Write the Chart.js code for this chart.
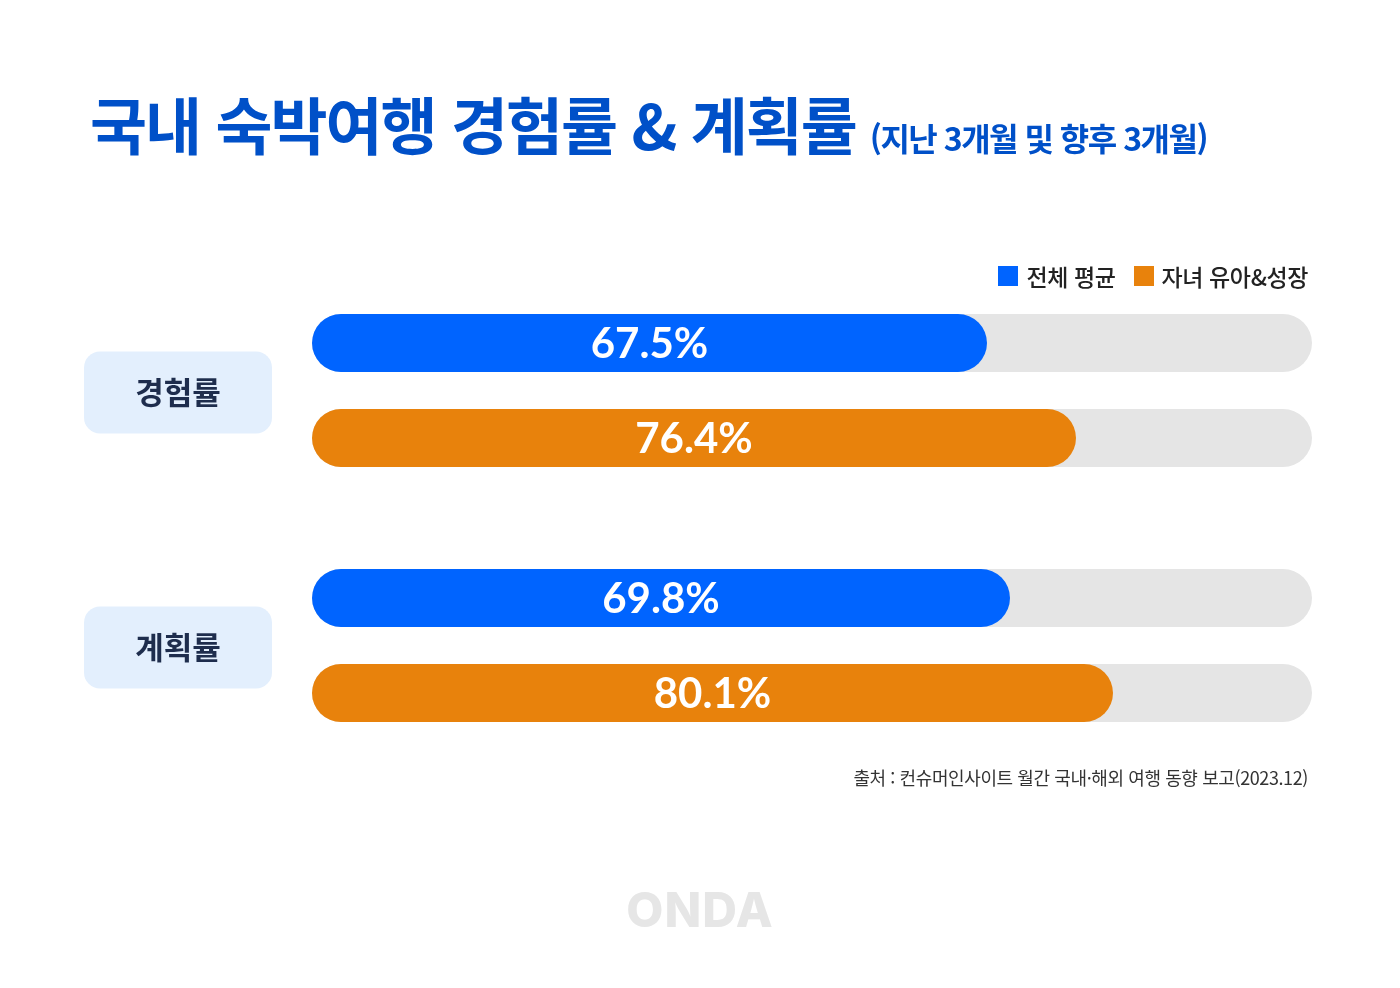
<!DOCTYPE html>
<html lang="ko">
<head>
<meta charset="utf-8">
<script src="https://cdn.jsdelivr.net/npm/chart.js@4/dist/chart.umd.min.js"></script>
<style>
  html, body { margin: 0; padding: 0; background: #ffffff; }
  #wrap { position: relative; width: 1400px; height: 988px; overflow: hidden; background: #fff; }
  #chart { position: absolute; left: 0; top: 0; width: 1400px; height: 988px; }
  .kr { font-family: "Noto Sans CJK KR", "Noto Sans", sans-serif; }
  #title { position: absolute; left: 90px; top: 92px; font-size: 62px; line-height: 62px; font-weight: 700; color: #0050c8; letter-spacing: -2px; white-space: nowrap; }
  #title span { font-size: 32px; letter-spacing: -1.5px; margin-left: 14px; position: relative; top: 1px; }
  #legend { position: absolute; right: 92px; top: 261px; display: flex; gap: 18px; font-size: 23px; line-height: 30px; color: #222; white-space: nowrap; font-weight: 500; letter-spacing: -0.4px; }
  #legend .it { display: flex; align-items: center; }
  #legend .sw { width: 20px; height: 20px; margin-right: 8px; display: inline-block; }
  #source { position: absolute; right: 92px; top: 764px; font-size: 18px; line-height: 26px; color: #333; letter-spacing: -0.4px; white-space: nowrap; }
  #logo { position: absolute; left: 0; width: 1400px; top: 884px; text-align: center; font-family: "Inter", "Roboto", sans-serif; font-weight: 800; font-size: 48px; line-height: 52px; color: #e6e6e6; letter-spacing: 1px; }
</style>
</head>
<body>
<div id="wrap">
  <canvas id="chart" width="1400" height="988"></canvas>
  <div id="title" class="kr">국내 숙박여행 경험률 &amp; 계획률<span>(지난 3개월 및 향후 3개월)</span></div>
  <div id="legend" class="kr"></div>
  <div id="source" class="kr">출처 : 컨슈머인사이트 월간 국내·해외 여행 동향 보고(2023.12)</div>
  <div id="logo">ONDA</div>
</div>
<script>
// ---- data ----
const categories = ["경험률", "계획률"];
const seriesNames = ["전체 평균", "자녀 유아&성장"];
const allAverage = [67.5, 69.8];
const childFamily = [76.4, 80.1];
const seriesColors = ["#0064ff", "#e8820c"];
const trackMax = 100;

// legend (HTML)
const legendEl = document.getElementById('legend');
seriesNames.forEach((n, i) => {
  const it = document.createElement('div');
  it.className = 'it';
  const sw = document.createElement('span');
  sw.className = 'sw';
  sw.style.background = seriesColors[i];
  it.appendChild(sw);
  it.appendChild(document.createTextNode(n));
  legendEl.appendChild(it);
});

function roundRect(ctx, x, y, w, h, r) {
  ctx.beginPath();
  ctx.moveTo(x + r, y);
  ctx.lineTo(x + w - r, y);
  ctx.arcTo(x + w, y, x + w, y + r, r);
  ctx.lineTo(x + w, y + h - r);
  ctx.arcTo(x + w, y + h, x + w - r, y + h, r);
  ctx.lineTo(x + r, y + h);
  ctx.arcTo(x, y + h, x, y + h - r, r);
  ctx.lineTo(x, y + r);
  ctx.arcTo(x, y, x + r, y, r);
  ctx.closePath();
}

const trackPlugin = {
  id: 'tracks',
  beforeDatasetsDraw(chart) {
    const ctx = chart.ctx;
    const xs = chart.scales.x;
    const x0 = xs.getPixelForValue(0);
    const x1 = xs.getPixelForValue(trackMax);
    ctx.save();
    ctx.fillStyle = '#e5e5e5';
    chart.data.datasets.forEach((ds, di) => {
      chart.getDatasetMeta(di).data.forEach(bar => {
        const h = bar.height;
        roundRect(ctx, x0, bar.y - h / 2, x1 - x0, h, h / 2);
        ctx.fill();
      });
    });
    // category pills
    const ys = chart.scales.y;
    categories.forEach((c, i) => {
      const cy = ys.getPixelForValue(i) + 2;
      const w = 188, h = 82, left = 84;
      ctx.fillStyle = '#e3effd';
      roundRect(ctx, left, cy - h / 2, w, h, 16);
      ctx.fill();
      ctx.fillStyle = '#1e2d4d';
      ctx.font = '700 31px "Noto Sans CJK KR"';
      ctx.textAlign = 'center';
      ctx.textBaseline = 'middle';
      ctx.fillText(c, left + w / 2, cy);
    });
    ctx.restore();
  },
  afterDatasetsDraw(chart) {
    const ctx = chart.ctx;
    ctx.save();
    ctx.fillStyle = '#ffffff';
    ctx.font = '700 42px Lato';
    ctx.textAlign = 'center';
    ctx.textBaseline = 'middle';
    chart.data.datasets.forEach((ds, di) => {
      chart.getDatasetMeta(di).data.forEach((bar, i) => {
        const cx = (bar.base + bar.x) / 2;
        ctx.fillText(ds.data[i].toFixed(1) + '%', cx, bar.y + 1);
      });
    });
    ctx.restore();
  }
};

new Chart(document.getElementById('chart'), {
  type: 'bar',
  data: {
    labels: categories,
    datasets: [
      { label: seriesNames[0], data: allAverage, backgroundColor: seriesColors[0] },
      { label: seriesNames[1], data: childFamily, backgroundColor: seriesColors[1] }
    ]
  },
  options: {
    indexAxis: 'y',
    responsive: false,
    animation: false,
    devicePixelRatio: 1,
    layout: { padding: { left: 312, right: 88, top: 263, bottom: 215 } },
    datasets: {
      bar: {
        categoryPercentage: 0.745,
        barPercentage: 0.61,
        borderSkipped: false,
        borderRadius: 29
      }
    },
    scales: {
      x: { min: 0, max: trackMax, display: false },
      y: { display: false }
    },
    plugins: {
      legend: { display: false },
      tooltip: { enabled: false }
    }
  },
  plugins: [trackPlugin]
});
</script>
</body>
</html>
